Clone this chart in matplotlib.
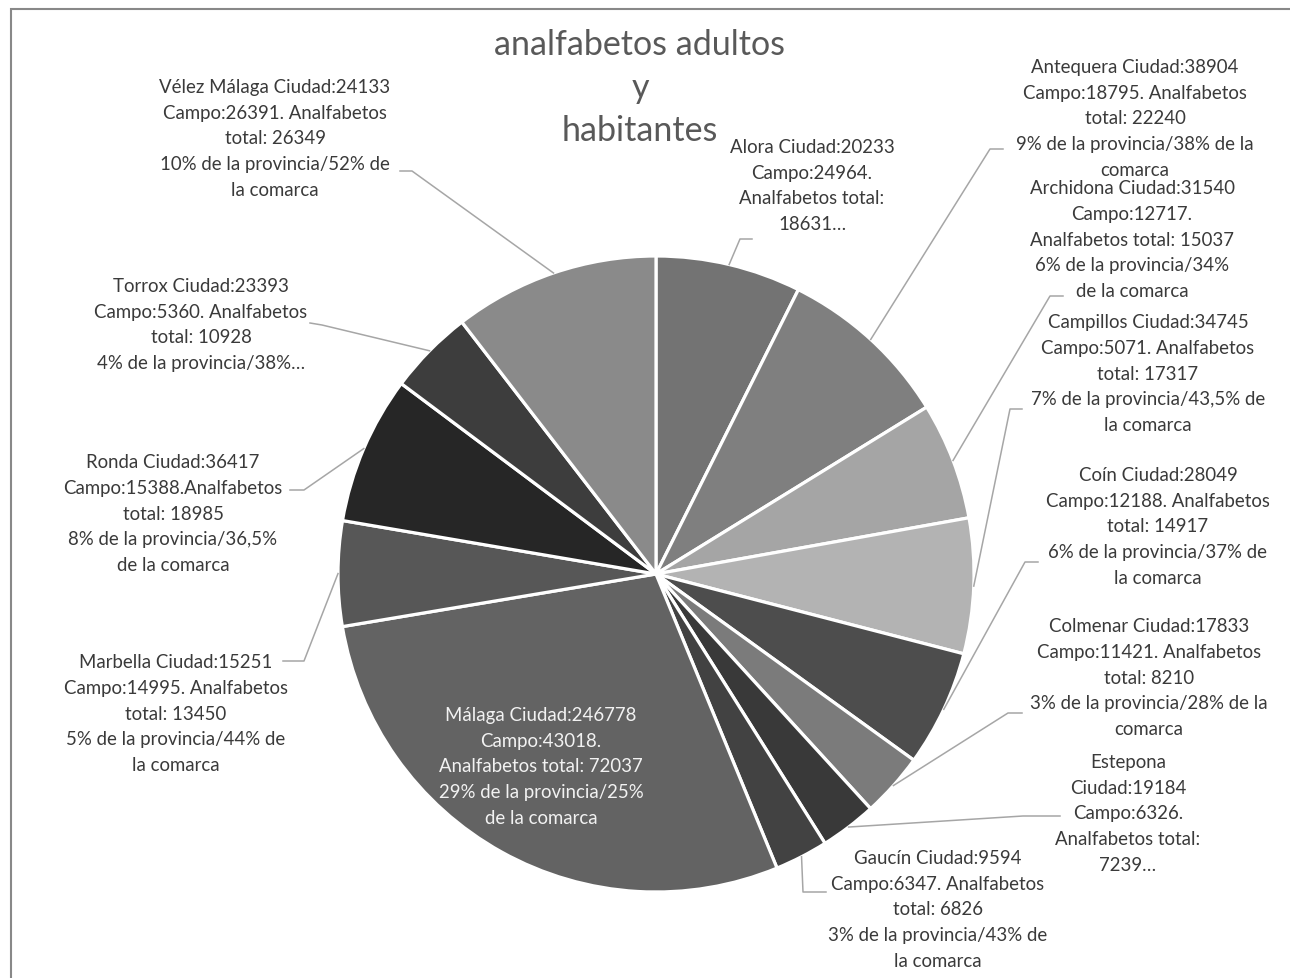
import matplotlib.pyplot as plt
import numpy as np
from matplotlib.patches import Rectangle

plt.rcParams['font.family'] = ['Lato', 'DejaVu Sans']

W, H = 1290, 979

comarcas = ["Alora", "Antequera", "Archidona", "Campillos", "Coín", "Colmenar",
            "Estepona", "Gaucín", "Málaga", "Marbella", "Ronda", "Torrox",
            "Vélez Málaga"]
analfabetos = [18631, 22240, 15037, 17317, 14917, 8210, 7239, 6826, 72037,
               13450, 18985, 10928, 26349]
colores = ["#737373", "#7f7f7f", "#a5a5a5", "#b3b3b3", "#4d4d4d", "#7b7b7b",
           "#393939", "#424242", "#636363", "#575757", "#262626", "#3d3d3d",
           "#8a8a8a"]

etiquetas = [
    "Alora Ciudad:20233\nCampo:24964.\nAnalfabetos total:\n18631…",
    "Antequera Ciudad:38904\nCampo:18795. Analfabetos\ntotal: 22240\n9% de la provincia/38% de la\ncomarca",
    "Archidona Ciudad:31540\nCampo:12717.\nAnalfabetos total: 15037\n6% de la provincia/34%\nde la comarca",
    "Campillos Ciudad:34745\nCampo:5071. Analfabetos\ntotal: 17317\n7% de la provincia/43,5% de\nla comarca",
    "Coín Ciudad:28049\nCampo:12188. Analfabetos\ntotal: 14917\n6% de la provincia/37% de\nla comarca",
    "Colmenar Ciudad:17833\nCampo:11421. Analfabetos\ntotal: 8210\n3% de la provincia/28% de la\ncomarca",
    "Estepona\nCiudad:19184\nCampo:6326.\nAnalfabetos total:\n7239…",
    "Gaucín Ciudad:9594\nCampo:6347. Analfabetos\ntotal: 6826\n3% de la provincia/43% de\nla comarca",
    "Málaga Ciudad:246778\nCampo:43018.\nAnalfabetos total: 72037\n29% de la provincia/25%\nde la comarca",
    "Marbella Ciudad:15251\nCampo:14995. Analfabetos\ntotal: 13450\n5% de la provincia/44% de\nla comarca",
    "Ronda Ciudad:36417\nCampo:15388.Analfabetos\ntotal: 18985\n8% de la provincia/36,5%\nde la comarca",
    "Torrox Ciudad:23393\nCampo:5360. Analfabetos\ntotal: 10928\n4% de la provincia/38%…",
    "Vélez Málaga Ciudad:24133\nCampo:26391. Analfabetos\ntotal: 26349\n10% de la provincia/52% de\nla comarca",
]

# label layout in pixels (y measured from top): text centre, leader elbow, leader end
pos_texto = [(812, 186), (1135, 119), (1132, 240), (1148, 374), (1158, 527),
             (1149, 678), (1128, 814), (938, 910), (541, 767), (176, 714),
             (173, 514), (201, 325), (275, 139)]
codos = [(740, 240), (990, 150), (1050, 297), (1010, 410), (1025, 563),
         (1008, 714), (1023, 817), (803, 893), None, (304, 662), (304, 491),
         (322, 326), (412, 172)]
finales = [(752, 240), (1003, 150), (1063, 297), (1022, 410), (1038, 563),
           (1022, 714), (1060, 817), (826, 893), None, (283, 662), (290, 491),
           (310, 324), (400, 172)]


def px(p):
    return p[0], H - p[1]


fig = plt.figure(figsize=(W / 100, H / 100), dpi=100)
ax = fig.add_axes([0, 0, 1, 1])

centro = px((656, 575))
radio = 318
wedges, _ = ax.pie(analfabetos, colors=colores, startangle=90, counterclock=False,
                   center=centro, radius=radio,
                   wedgeprops=dict(edgecolor="white", linewidth=2.3))

for i, w in enumerate(wedges):
    x, y = px(pos_texto[i])
    color = "#f2f2f2" if comarcas[i] == "Málaga" else "#3a3a3a"
    ax.text(x, y, etiquetas[i], ha="center", va="center", fontsize=13.4,
            color=color, linespacing=1.63)
    if codos[i] is None:
        continue
    ang = np.deg2rad((w.theta1 + w.theta2) / 2)
    ancla = (centro[0] + radio * np.cos(ang), centro[1] + radio * np.sin(ang))
    cx, cy = px(codos[i])
    fx, fy = px(finales[i])
    ax.plot([ancla[0], cx, fx], [ancla[1], cy, fy], color="#a6a6a6", lw=1.1)

fig.text(640 / W, 1 - 88 / H, "analfabetos adultos\ny\nhabitantes", ha="center",
         va="center", fontsize=24.5, color="#595959", linespacing=1.43)

ax.add_patch(Rectangle((11, -50), 1400, H - 10 + 50, fill=False,
                       edgecolor="#888888", lw=1.5, clip_on=False))

ax.set_xlim(0, W)
ax.set_ylim(0, H)
ax.set_aspect("equal")
ax.axis("off")

fig.savefig("out.png", dpi=100)
